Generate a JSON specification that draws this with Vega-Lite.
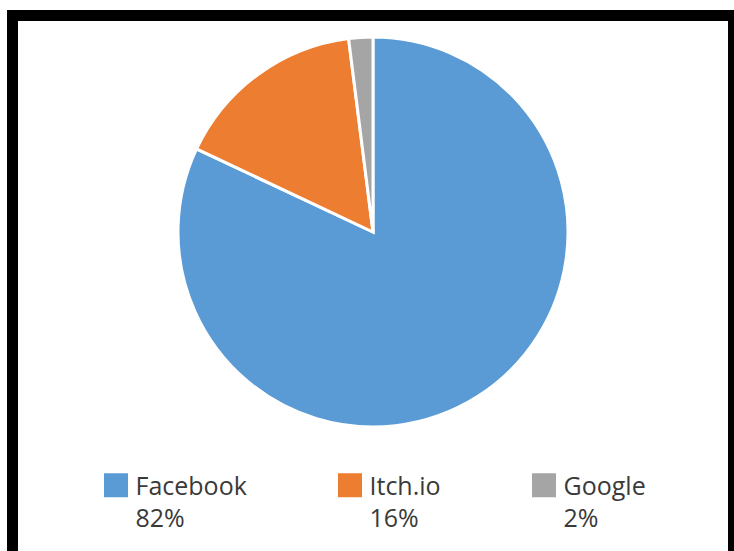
{
  "$schema": "https://vega.github.io/schema/vega-lite/v6.json",
  "autosize": "none",
  "width": 721,
  "height": 560,
  "padding": {"left": 12.5, "top": 15.5, "right": 0, "bottom": 0},
  "background": "white",
  "config": {
    "view": {"stroke": "black", "strokeWidth": 11, "fill": "white"},
    "style": {"guide-label": {"lineHeight": 32, "dy": 2}}
  },
  "data": {
    "values": [
      {"source": "Facebook", "share": 82},
      {"source": "Itch.io", "share": 16},
      {"source": "Google", "share": 2}
    ]
  },
  "mark": {"type": "arc", "outerRadius": 195, "stroke": "white", "strokeWidth": 3},
  "encoding": {
    "theta": {"field": "share", "type": "quantitative", "stack": true},
    "y": {"datum": 0.6134, "type": "quantitative", "scale": {"domain": [0, 1]}, "axis": null},
    "color": {
      "field": "source",
      "type": "nominal",
      "sort": ["Facebook", "Itch.io", "Google"],
      "scale": {"domain": ["Facebook", "Itch.io", "Google"], "range": ["#5B9BD5", "#ED7D31", "#A5A5A5"]},
      "legend": {
        "title": null,
        "orient": "none",
        "legendX": 91,
        "legendY": 457,
        "direction": "horizontal",
        "padding": 0,
        "symbolType": "square",
        "symbolSize": 576,
        "symbolStrokeWidth": 0,
        "symbolOpacity": 1,
        "labelFont": "Open Sans",
        "labelFontSize": 25,
        "labelColor": "#3a3a3a",
        "labelOffset": 7,
        "labelLimit": 300,
        "columnPadding": 90,
        "labelExpr": "[datum.label, datum.label == 'Facebook' ? '82%' : datum.label == 'Itch.io' ? '16%' : '2%']"
      }
    },
    "order": {"field": "share", "sort": "descending"}
  }
}
